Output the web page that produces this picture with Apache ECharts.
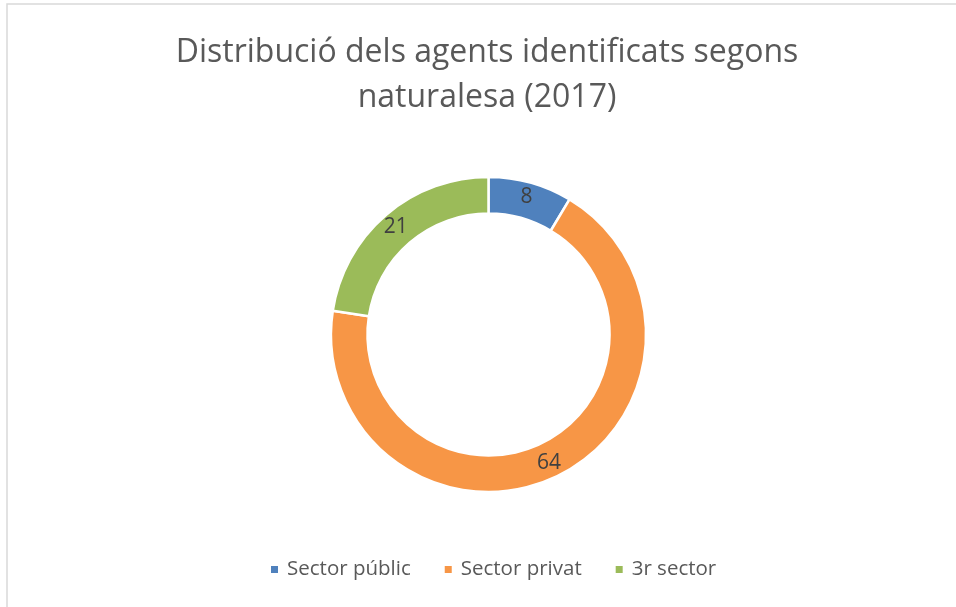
<!DOCTYPE html>
<html>
<head>
<meta charset="utf-8">
<script src="https://cdn.jsdelivr.net/npm/echarts@6/dist/echarts.min.js"></script>
<style>
  html, body { margin: 0; padding: 0; background: #fff; }
  #chart { width: 956px; height: 607px; }
</style>
</head>
<body>
<div id="chart"></div>
<script>
var titleText = 'Distribució dels agents identificats segons\nnaturalesa (2017)'
var categories = ['Sector públic', 'Sector privat', '3r sector']
var values = [8, 64, 21]
var colors = ['#4f81bd', '#f79646', '#9bbb59']

var chart = echarts.init(document.getElementById('chart'))
window.addEventListener('resize', chart.resize)

var data = categories.map(function (name, i) {
  return {name: name, value: values[i], itemStyle: {color: colors[i]}}
})

chart.setOption({
  backgroundColor: '#fff',
  animation: false,
  graphic: [{
    type: 'rect',
    shape: {x: 7, y: 4, width: 1000, height: 700},
    style: {fill: 'none', stroke: '#d9d9d9', lineWidth: 1.5},
    silent: true
  }],
  title: {
    text: titleText,
    left: 482,
    top: 25,
    textAlign: 'center',
    textStyle: {
      fontFamily: 'Open Sans',
      fontSize: 32,
      fontWeight: 'normal',
      color: '#595959',
      lineHeight: 45
    }
  },
  legend: {
    bottom: 22,
    left: 264,
    icon: 'rect',
    itemWidth: 9,
    itemHeight: 9,
    itemGap: 32,
    textStyle: {fontFamily: 'Open Sans', fontSize: 20.5, color: '#595959', padding: [0, 0, 0, 3]},
    data: categories
  },
  series: [{
    type: 'pie',
    center: [488.5, 334.5],
    radius: [121, 157.5],
    startAngle: 90,
    clockwise: true,
    itemStyle: {borderColor: '#fff', borderWidth: 2.5},
    label: {
      show: true,
      position: 'inside',
      formatter: '{c}',
      fontFamily: 'Open Sans',
      fontSize: 21,
      color: '#404040'
    },
    labelLine: {show: false},
    emphasis: {disabled: true},
    data: data
  }]
})
</script>
</body>
</html>
